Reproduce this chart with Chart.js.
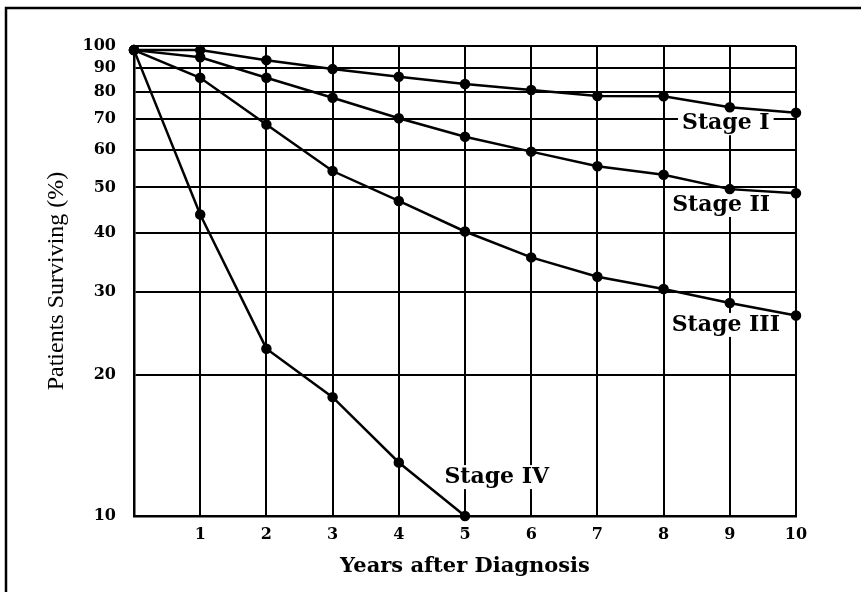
<!DOCTYPE html>
<html>
<head>
<meta charset="utf-8">
<script src="https://cdn.jsdelivr.net/npm/chart.js@4.4.1/dist/chart.umd.min.js"></script>
<style>
  html, body { margin: 0; padding: 0; background: #fff; }
  #wrap { width: 861px; height: 592px; }
</style>
</head>
<body>
<div id="wrap"><canvas id="survivalChart" width="861" height="592"></canvas></div>
<script>
// Survival data
const years = [0, 1, 2, 3, 4, 5, 6, 7, 8, 9, 10];
const stageI = [98, 98, 93.3, 89.3, 86, 83, 80.6, 78.3, 78.2, 74.1, 72.1];
const stageII = [98, 94.6, 85.6, 77.6, 70.2, 64.1, 59.6, 55.5, 53.2, 49.6, 48.6];
const stageIII = [98, 85.6, 68.1, 54.2, 46.8, 40.3, 35.5, 32.3, 30.4, 28.4, 26.7];
const stageIV = [98, 43.8, 22.7, 17.9, 13.0, 10];
const yTicks = [10, 20, 30, 40, 50, 60, 70, 80, 90, 100];

// Curve labels: text with the (year, %) spot they sit at
const labelText = ['Stage I', 'Stage II', 'Stage III', 'Stage IV'];
const labelYear = [8.94, 8.87, 8.94, 5.48];
const labelPct = [68.5, 45.9, 25.5, 12.1];

const serifBold = '"DejaVu Serif", serif';

function toPoints(values) {
  return values.map((v, i) => ({ x: years[i], y: v }));
}

function lineSet(label, values) {
  return {
    label: label,
    data: toPoints(values),
    borderColor: '#000',
    backgroundColor: '#000',
    borderWidth: 2.5,
    pointRadius: 4,
    pointHoverRadius: 4,
    tension: 0,
    clip: false,
  };
}

// White page plus the scanned frame lines on the left and top
const framePlugin = {
  id: 'frame',
  beforeDraw(chart) {
    const c = chart.ctx;
    c.save();
    c.fillStyle = '#fff';
    c.fillRect(0, 0, chart.width, chart.height);
    c.strokeStyle = '#000';
    c.lineWidth = 2.5;
    c.beginPath();
    c.moveTo(6, chart.height);
    c.lineTo(6, 8);
    c.lineTo(chart.width, 8);
    c.stroke();
    c.restore();
  }
};

// Stage names written on the grid with a white box behind them
const stageLabels = {
  id: 'stageLabels',
  beforeDatasetsDraw(chart) {
    const c = chart.ctx;
    const xs = chart.scales.x;
    const ys = chart.scales.y;
    c.save();
    c.font = 'bold 22px ' + serifBold;
    c.textAlign = 'center';
    c.textBaseline = 'middle';
    labelText.forEach((t, i) => {
      const px = xs.getPixelForValue(labelYear[i]);
      const py = ys.getPixelForValue(labelPct[i]);
      const w = c.measureText(t).width;
      c.fillStyle = '#fff';
      c.fillRect(px - w / 2 - 4, py - 12, w + 8, 24);
      c.fillStyle = '#000';
      c.fillText(t, px, py);
    });
    c.restore();
  }
};

const ctx = document.getElementById('survivalChart').getContext('2d');

new Chart(ctx, {
  type: 'line',
  data: {
    datasets: [
      lineSet('Stage I', stageI),
      lineSet('Stage II', stageII),
      lineSet('Stage III', stageIII),
      lineSet('Stage IV', stageIV),
    ],
  },
  options: {
    responsive: false,
    animation: false,
    layout: {
      padding: { left: 0, top: 46, right: 65, bottom: 0 },
    },
    plugins: {
      legend: { display: false },
      tooltip: { enabled: false },
    },
    scales: {
      x: {
        type: 'linear',
        min: 0,
        max: 10,
        ticks: {
          stepSize: 1,
          color: '#000',
          padding: 9,
          font: { family: serifBold, size: 16, weight: 'bold' },
          callback: (v) => (v === 0 ? '' : v),
        },
        grid: {
          color: '#000',
          lineWidth: 2,
          drawTicks: false,
        },
        border: { color: '#000', width: 2.5 },
        title: {
          display: true,
          text: 'Years after Diagnosis',
          color: '#000',
          font: { family: serifBold, size: 21, weight: 'bold' },
          padding: { top: 0, bottom: 13 },
        },
        afterFit(scale) { scale.height = 76; },
      },
      y: {
        type: 'logarithmic',
        min: 10,
        max: 100,
        afterBuildTicks(scale) {
          scale.ticks = yTicks.map((v) => ({ value: v }));
        },
        ticks: {
          color: '#000',
          padding: 18,
          font: { family: serifBold, size: 16, weight: 'bold' },
          callback: (v) => v,
        },
        grid: {
          color: '#000',
          lineWidth: 2,
          drawTicks: false,
        },
        border: { color: '#000', width: 2.5 },
        title: {
          display: true,
          text: 'Patients Surviving (%)',
          color: '#000',
          font: { family: '"Liberation Serif", serif', size: 24, weight: 'normal' },
          padding: { top: 42, bottom: 0 },
        },
        afterFit(scale) { scale.width = 134; },
      },
    },
  },
  plugins: [framePlugin, stageLabels],
});
</script>
</body>
</html>
